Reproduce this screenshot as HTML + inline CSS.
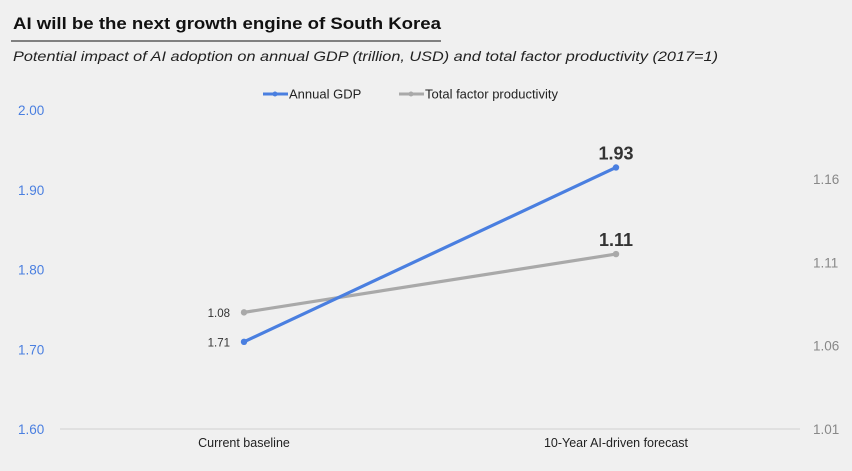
<!DOCTYPE html>
<html><head><meta charset="utf-8"><style>
body{margin:0;background:#f0f0f0;font-family:"Liberation Sans",sans-serif}
#wrap{position:relative;width:852px;height:471px;overflow:hidden;background:#f0f0f0}
</style></head><body>
<div id="wrap">
<svg id="chart" width="852" height="471">
<text x="13" y="29" font-size="17" font-weight="bold" fill="#111" textLength="428" lengthAdjust="spacingAndGlyphs">AI will be the next growth engine of South Korea</text>
<line x1="11" y1="41" x2="441" y2="41" stroke="#111" stroke-width="1"/>
<text x="13" y="61" font-size="14" font-style="italic" fill="#222" textLength="705" lengthAdjust="spacingAndGlyphs">Potential impact of AI adoption on annual GDP (trillion, USD) and total factor productivity (2017=1)</text>
<g>
<g><line x1="263" y1="94" x2="288" y2="94" stroke="#4a7fe0" stroke-width="3"/><circle cx="275" cy="94" r="2.5" fill="#4a7fe0"/><text x="289" y="98.5" font-size="13" fill="#222">Annual GDP</text></g>
<g><line x1="399" y1="94" x2="424" y2="94" stroke="#a9a9a9" stroke-width="3"/><circle cx="411" cy="94" r="2.5" fill="#a9a9a9"/><text x="425" y="98.5" font-size="13" fill="#222">Total factor productivity</text></g>
</g>
<g id="axes"></g><g id="marks"></g>
</svg>
</div>
<script>
const categories=["Current baseline","10-Year AI-driven forecast"];
const gdpValues=[1.71,1.93];
const tfpValues=[1.08,1.115];
const gdpLabels=["1.71","1.93"];
const tfpLabels=["1.08","1.11"];
const leftTicks=[1.6,1.7,1.8,1.9,2.0];
const rightTicks=[1.01,1.06,1.11,1.16];
const NS="http://www.w3.org/2000/svg";
const xPos=[244,616];
function x(i){return xPos[i];}
function yL(v){return 429-(v-1.6)/0.4*317;}
function yR(v){return 429-(v-1.01)/0.05*83.3;}
function mk(tag,attrs,parent,text){const e=document.createElementNS(NS,tag);for(const k in attrs)e.setAttribute(k,attrs[k]);if(text!==undefined)e.textContent=text;parent.appendChild(e);return e;}
const ax=document.getElementById('axes'),mg=document.getElementById('marks');
let e=mk('line',{x1:60,y1:429,x2:800,y2:429,stroke:'#cfcfcf','stroke-width':1},ax);


leftTicks.forEach(v=>{const t=mk('text',{x:18,y:429-(v-1.6)/0.4*319+5,'font-size':13.5,fill:'#4a7fe0'},ax,v.toFixed(2));

});
rightTicks.forEach(v=>{const t=mk('text',{x:813,y:yR(v)+5,'font-size':13.5,fill:'#888'},ax,v.toFixed(2));

});
categories.forEach((c,i)=>{const t=mk('text',{x:x(i),y:447,'font-size':12.5,fill:'#222','text-anchor':'middle'},ax,c);

});
function series(vals,labels,yf,color,name){
 const l=mk('line',{x1:x(0),y1:yf(vals[0]),x2:x(1),y2:yf(vals[1]),stroke:color,'stroke-width':3.2},mg);
 
 
 vals.forEach((v,i)=>{const c=mk('circle',{cx:x(i),cy:yf(v),r:3.2,fill:color},mg);
 
 
 const t=i==0?mk('text',{x:x(i)-14,y:yf(v)+4.5,'font-size':11.5,fill:'#333','text-anchor':'end'},mg,labels[i])
   :mk('text',{x:x(i),y:yf(v)-8,'font-size':18,'font-weight':'bold',fill:'#333','text-anchor':'middle'},mg,labels[i]);
 
 });
}
series(tfpValues,tfpLabels,yR,'#a9a9a9','tfp');
series(gdpValues,gdpLabels,yL,'#4a7fe0','gdp');
</script>
</body></html>
